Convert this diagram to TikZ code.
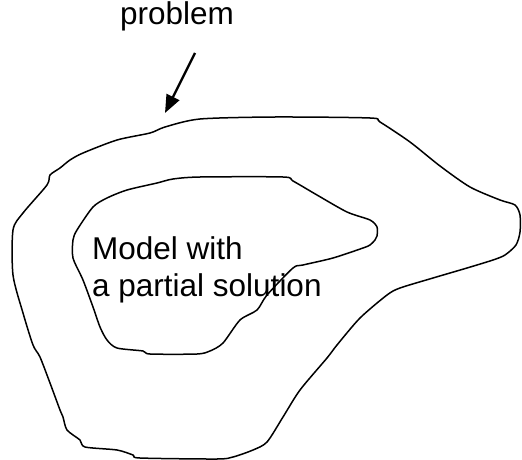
\documentclass[tikz,border=0pt]{standalone}
\usepackage{fontspec}
\setmainfont{Liberation Sans}
\usetikzlibrary{arrows.meta}

\begin{document}
\begin{tikzpicture}[
        x=1pt, y=-1pt,
        blob/.style={draw=black, line width=1.5pt, line join=round},
        lbl/.style={inner sep=0pt, font=\fontsize{31.5}{37}\selectfont},
        arr/.style={-{Triangle[length=18pt, width=14pt]}, line width=2.4pt, black},
    ]
        \useasboundingbox (0,0) rectangle (522,460);

        % Outer region (problem)
        \draw[blob] plot[smooth cycle, tension=0.45] coordinates {
            (150,133) (165,127) (200,119) (275,117) (370,118) (380,122)
            (410,142) (440,166) (470,187) (500,200) (515,205) (520,215)
            (520,232) (516,245) (505,255) (493,260) (467,268) (433,278)
            (400,288) (387,295) (360,318) (337,345) (327,358) (300,390)
            (283,417) (267,442) (253,450) (233,457) (217,459) (140,458)
            (133,455) (117,450) (85,447) (80,440) (67,430) (63,417)
            (60,410) (50,383) (40,357) (33,345) (23,313) (13,275)
            (13,230) (23,213) (47,185) (50,175) (60,168) (70,160)
            (83,153) (117,140)};

        % Inner region (model)
        \draw[blob] plot[smooth cycle, tension=0.45] coordinates {
            (77,230) (93,207) (107,198) (127,190) (157,183) (173,179)
            (200,177) (283,177) (293,181) (317,195) (347,212) (370,220)
            (377,227) (377,236) (375,240) (370,245) (363,248) (333,258)
            (303,265) (293,268) (267,295) (257,310) (240,320) (223,343)
            (210,351) (197,354) (150,354) (143,351) (117,348) (107,340)
            (100,327) (93,307) (83,280) (73,258) (73,240)};

        % Labels
        \node[lbl, anchor=base] (prob) at (177,25) {problem};
        \node[lbl, anchor=north west, align=left] (model) at (92,236) {Model with\\a partial solution};

        % Arrow
        \coordinate (tail) at (195,53);
        \coordinate (tip) at (165,113);
        \draw[arr] (tail) -- (tip);
    \end{tikzpicture}
\end{document}
